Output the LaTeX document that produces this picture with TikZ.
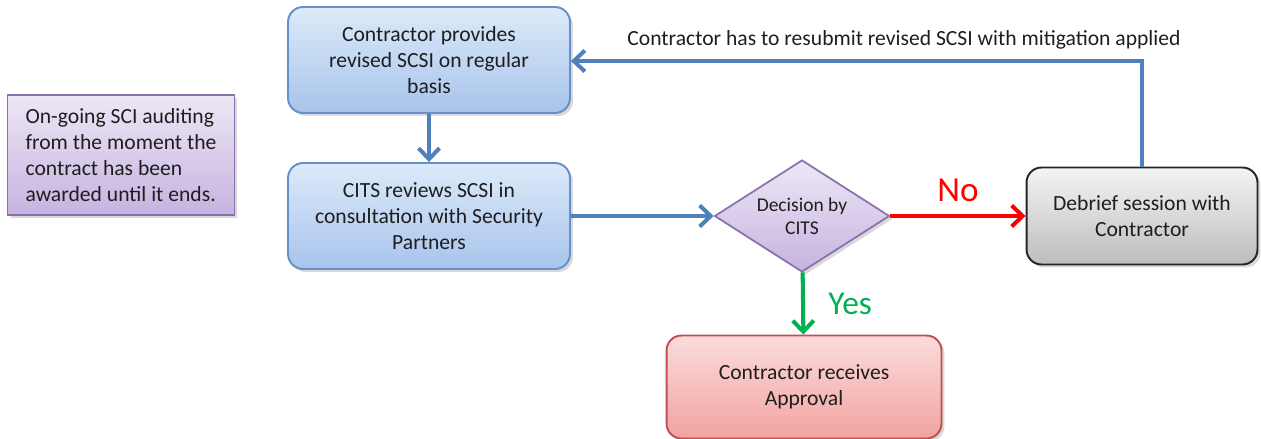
\documentclass[tikz,border=0pt]{standalone}
\usepackage{fontspec}
\setmainfont{Carlito}
\usetikzlibrary{arrows.meta,shapes.geometric,shadows}

\definecolor{bluetop}{HTML}{DDEAF9}
\definecolor{bluebot}{HTML}{A7C4EC}
\definecolor{blueline}{HTML}{6590C8}
\definecolor{arrowblue}{HTML}{4F81BD}
\definecolor{purptop}{HTML}{EEE7F6}
\definecolor{purpbot}{HTML}{C6B3E0}
\definecolor{purpline}{HTML}{8A72AE}
\definecolor{greytop}{HTML}{F4F4F4}
\definecolor{greybot}{HTML}{BDBDBD}
\definecolor{redtop}{HTML}{FBDCDB}
\definecolor{redbot}{HTML}{F1A3A1}
\definecolor{redline}{HTML}{C0504D}
\definecolor{nored}{HTML}{FF0000}
\definecolor{yesgreen}{HTML}{00B050}
\definecolor{textgrey}{HTML}{1E1E1E}

\newcommand{\bodyfont}{\fontsize{12.3}{14.7}\selectfont}

\tikzset{
  boxshadow/.style={drop shadow={opacity=0.3, shadow xshift=0.06cm, shadow yshift=-0.06cm}},
  procbox/.style={draw=blueline, line width=1.1pt, rounded corners=0.3cm,
    top color=bluetop, bottom color=bluebot, boxshadow,
    minimum width=5.64cm, minimum height=2.12cm, align=center,
    font=\bodyfont, text=textgrey},
  notebox/.style={draw=purpline, line width=1.1pt,
    top color=purptop, bottom color=purpbot, boxshadow,
    minimum width=4.54cm, minimum height=2.4cm, align=left,
    font=\bodyfont, text=textgrey},
  decisionbox/.style={diamond, draw=purpline, line width=1pt,
    top color=purptop, bottom color=purpbot, boxshadow,
    minimum width=3.5cm, minimum height=2.24cm, aspect=1.56, inner sep=0pt,
    align=center, font=\fontsize{11.1}{13.3}\selectfont, text=textgrey},
  debriefbox/.style={procbox, draw=black!85, top color=greytop, bottom color=greybot,
    minimum width=4.62cm, minimum height=1.94cm},
  approvebox/.style={procbox, draw=redline, top color=redtop, bottom color=redbot,
    minimum width=5.5cm, minimum height=2.06cm},
  flowarrow/.style={line width=2.3pt, -{Straight Barb[length=0.22cm, width=0.42cm]}},
}

\begin{document}
\begin{tikzpicture}[x=0.02cm, y=-0.02cm]
    \useasboundingbox (0,0) rectangle (1261,439);

    % Note on the left
    \node (audit) [notebox] at (121,155) {On-going SCI auditing\\from the moment the\\contract has been\\awarded until it ends.};

    % Main flow
    \node (provide) [procbox] at (429,60) {Contractor provides\\revised SCSI on regular\\basis};
    \node (review) [procbox] at (429,216) {CITS reviews SCSI in\\consultation with Security\\Partners};
    \node (decide) [decisionbox] at (802,216) {Decision by\\CITS};
    \node (debrief) [debriefbox] at (1142,216) {Debrief session with\\Contractor};
    \node (approve) [approvebox] at (804,387) {Contractor receives\\Approval};

    % Connectors
    \draw [flowarrow, arrowblue] (provide) -- (review);
    \draw [flowarrow, arrowblue] (review) -- (decide);
    \draw [flowarrow, nored] (decide) -- node [above=0.12cm, font=\fontsize{20}{24}\selectfont, text=nored] {No} (debrief);
    \draw [flowarrow, yesgreen] (decide) -- node [right=0.35cm, font=\fontsize{19}{23}\selectfont, text=yesgreen] {Yes} (approve);

    % Back to the contractor
    \coordinate (turn) at (1142,61);
    \draw [flowarrow, arrowblue] (debrief.north) -- (turn) -- (provide.east |- turn);
    \node (resubmit) [font=\bodyfont, text=textgrey] at (904,40) {Contractor has to resubmit revised SCSI with mitigation applied};
\end{tikzpicture}
\end{document}
